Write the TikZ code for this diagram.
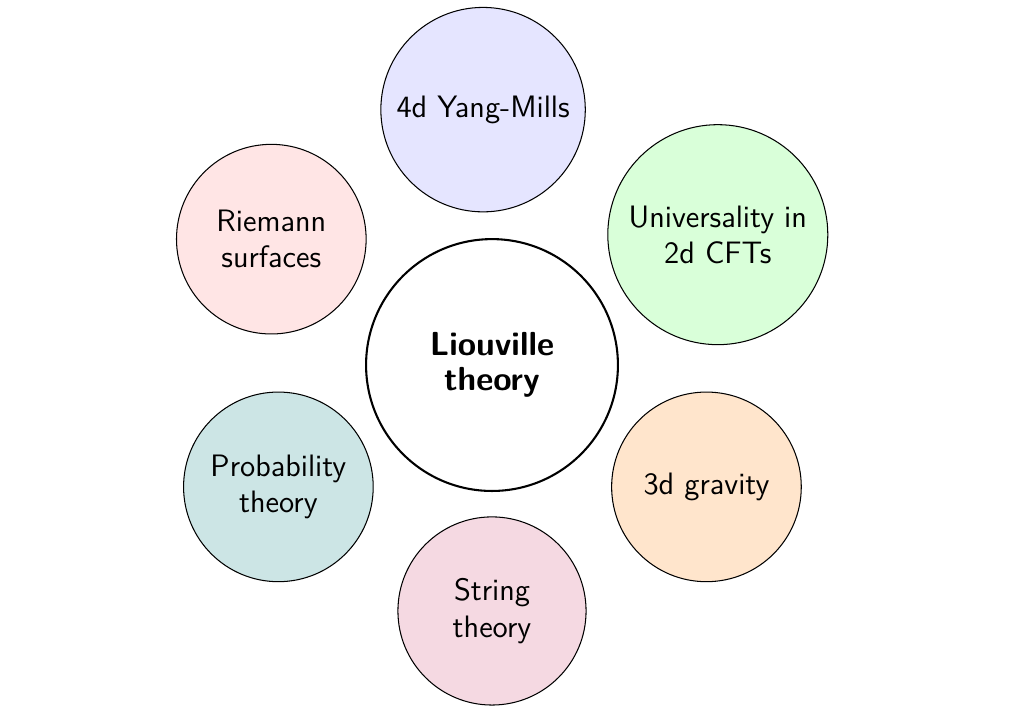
\documentclass[tikz,border=0pt]{standalone}
\usepackage{tikz}
\usetikzlibrary{positioning}
\tikzset{
  topic/.style = {circle, draw, thin, align=center, font=\sffamily\fontsize{11.9}{14}\selectfont, inner sep=0pt},
  hub/.style = {circle, draw, thick, align=center, font=\sffamily\bfseries\fontsize{12.8}{13.6}\selectfont, minimum size=3.4cm}
}
\begin{document}
\begin{tikzpicture}
                \useasboundingbox (-6.642,-4.766) rectangle (7.182,4.928);
                \node[hub] (liouville) at (0,0) {Liouville\\theory};
                \node[topic, fill=blue!10, minimum size=2.76cm] (yangmills) at (92:3.45) {4d Yang-Mills};
                \node[topic, fill=green!15, minimum size=2.97cm] (cft) at (30:3.52) {Universality in\\2d CFTs};
                \node[topic, fill=orange!20, minimum size=2.56cm] (gravity) at (-29.6:3.33) {3d gravity};
                \node[topic, fill=purple!15, minimum size=2.54cm] (string) at (-90:3.32) {String\\theory};
                \node[topic, fill=teal!20, minimum size=2.56cm] (probability) at (209.7:3.32) {Probability\\theory};
                \node[topic, fill=red!10, minimum size=2.56cm] (riemann) at (150.3:3.43) {Riemann\\surfaces};
\end{tikzpicture}
\end{document}
